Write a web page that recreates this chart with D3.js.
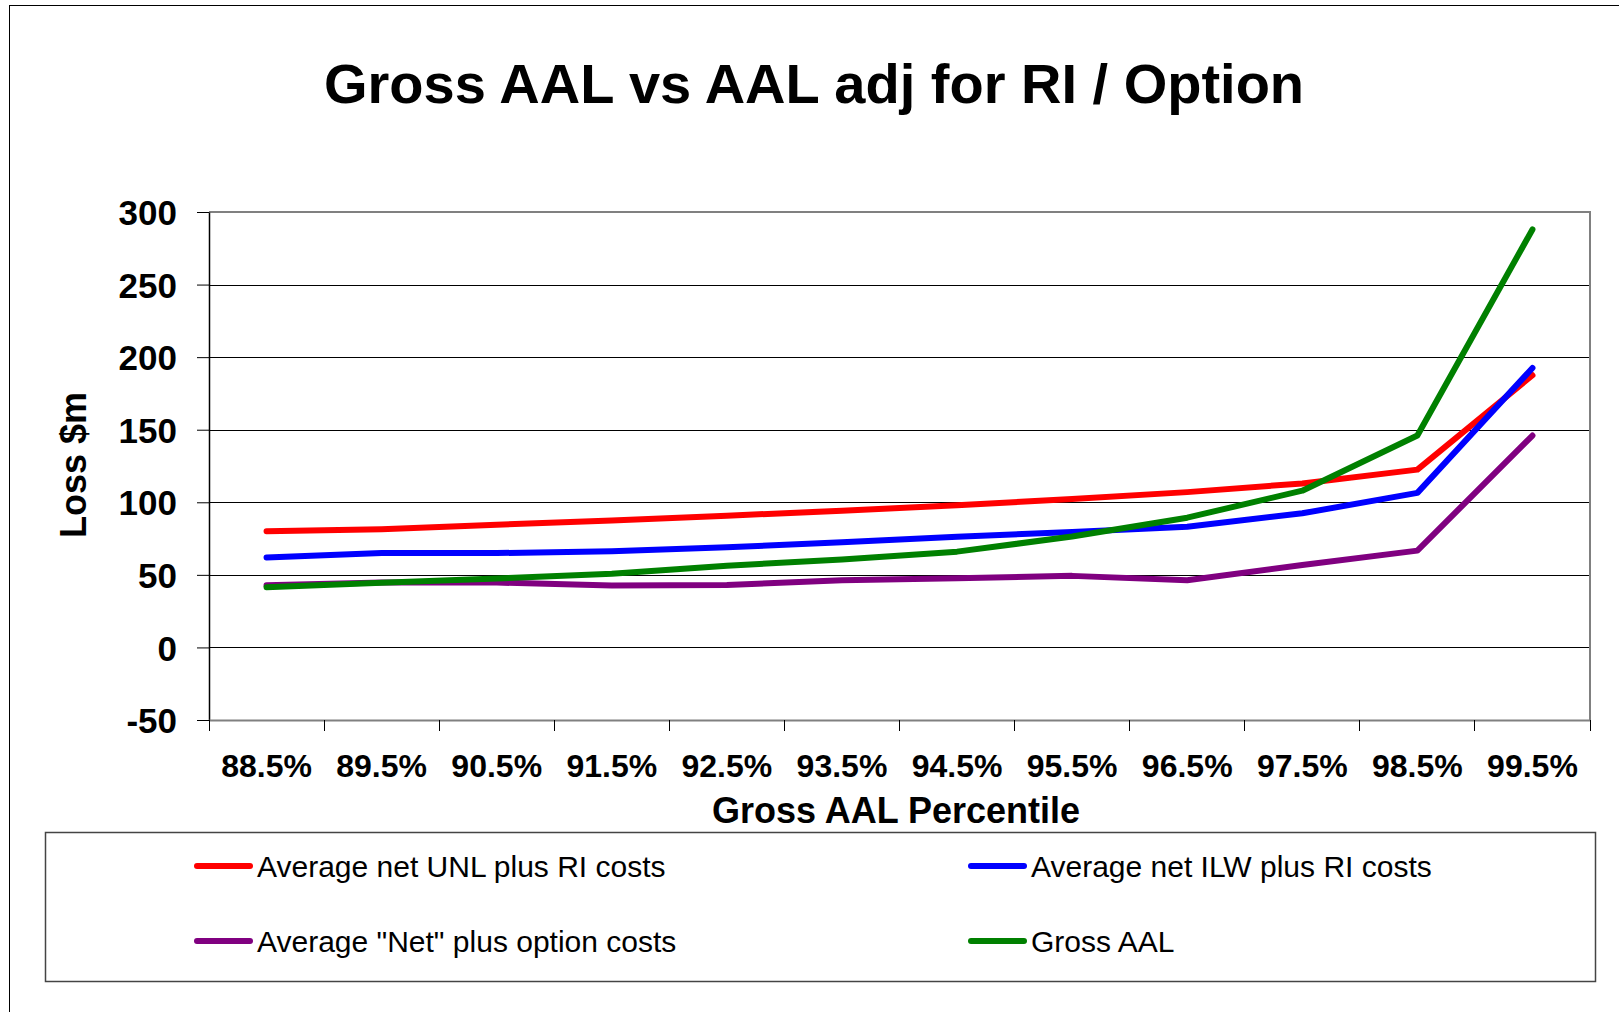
<!DOCTYPE html>
<html>
<head>
<meta charset="utf-8">
<script src="https://cdn.jsdelivr.net/npm/d3@7"></script>
<style>
  body { margin: 0; background: #fff; }
  svg { display: block; font-family: 'Liberation Sans', Arial, sans-serif; }
</style>
</head>
<body>
<svg id="chart" width="1619" height="1012"></svg>
<script>
var categories = [ '88.5%', '89.5%', '90.5%', '91.5%', '92.5%', '93.5%', '94.5%', '95.5%', '96.5%', '97.5%', '98.5%', '99.5%' ];

var unlRI  = [ 80, 81.5, 84.5, 87.5, 90.8, 94.2, 98, 102.3, 107, 113, 122.5, 187.5 ];
var ilwRI  = [ 62, 65, 65, 66.3, 69, 72.5, 76.3, 79.5, 83.2, 92.4, 106.5, 192.5 ];
var netOpt = [ 42.8, 44.7, 44.7, 42.7, 43, 46.3, 47.7, 49.3, 46.3, 56.8, 66.7, 146 ];
var gross  = [ 41.5, 44.6, 47.5, 50.7, 56.3, 60.6, 66, 76.4, 89.4, 108, 146, 288 ];

var seriesNames  = [ 'Average net UNL plus RI costs', 'Average net ILW plus RI costs', 'Average "Net" plus option costs', 'Gross AAL' ];
var seriesColors = [ '#ff0000', '#0000ff', '#800080', '#008000' ];
var yTicks = [ -50, 0, 50, 100, 150, 200, 250, 300 ];

var svg = d3.select( '#chart' ),
  plot = { left: 209, right: 1590, top: 212, bottom: 720 };

var series = [ unlRI, ilwRI, netOpt, gross ].map( ( v, i ) => ( { name: seriesNames[ i ], color: seriesColors[ i ], values: v } ) );

// outer chart border (only left & top visible in the crop)
svg.append( 'rect' )
  .attr( 'x', 9.5 ).attr( 'y', 5.5 )
  .attr( 'width', 1700 ).attr( 'height', 1100 )
  .style( 'fill', 'none' ).style( 'stroke', '#000' ).style( 'stroke-width', 1 );

svg.append( 'text' )
  .attr( 'x', 814 ).attr( 'y', 103 )
  .attr( 'text-anchor', 'middle' )
  .style( 'font-size', '56px' ).style( 'font-weight', 'bold' )
  .text( 'Gross AAL vs AAL adj for RI / Option' );

var x = d3.scaleBand()
  .domain( categories )
  .range( [ plot.left, plot.right ] );

var y = d3.scaleLinear()
  .domain( [ -50, 300 ] )
  .range( [ plot.bottom, plot.top ] );

// gridlines
svg.append( 'g' )
  .attr( 'class', 'grid' )
  .attr( 'transform', 'translate(' + plot.left + ',0)' )
  .call( d3.axisLeft( y ).tickValues( yTicks ).tickSize( -( plot.right - plot.left ) ).tickFormat( '' ) )
  .call( g => g.select( '.domain' ).remove() )
  .call( g => g.selectAll( 'line' ).style( 'stroke', '#000' ).style( 'shape-rendering', 'crispEdges' ) );

// plot frame top / right
svg.append( 'path' )
  .attr( 'd', 'M' + plot.left + ',' + plot.top + 'H' + plot.right + 'V' + plot.bottom )
  .style( 'fill', 'none' ).style( 'stroke', '#808080' ).style( 'stroke-width', 2 );

// y axis
var yAxis = svg.append( 'g' )
  .attr( 'transform', 'translate(' + plot.left + ',0)' )
  .call( d3.axisLeft( y ).tickValues( yTicks ).tickFormat( d => String( d ) )
    .tickSize( 12 ).tickSizeOuter( 0 ).tickPadding( 20 ) );
yAxis.select( '.domain' ).style( 'stroke', '#000' ).style( 'stroke-width', 1.5 );
yAxis.selectAll( '.tick line' ).style( 'stroke', '#000' );
yAxis.selectAll( 'text' )
  .style( 'font-size', '35px' ).style( 'font-weight', 'bold' ).style( 'fill', '#000' )
  .attr( 'dy', '0.36em' );

// x axis: labels at band centres, ticks at band edges
var xAxis = svg.append( 'g' )
  .attr( 'transform', 'translate(0,' + plot.bottom + ')' )
  .call( d3.axisBottom( x ).tickSize( 0 ).tickPadding( 0 ) );
xAxis.select( '.domain' ).style( 'stroke', '#808080' ).style( 'stroke-width', 2 );
xAxis.selectAll( 'text' )
  .attr( 'y', 57 ).attr( 'dy', 0 )
  .style( 'font-size', '32px' ).style( 'font-weight', 'bold' ).style( 'fill', '#000' );

var edges = categories.map( d => x( d ) ).concat( [ plot.right ] );
svg.append( 'g' ).selectAll( 'line' )
  .data( edges ).enter().append( 'line' )
    .attr( 'x1', d => d ).attr( 'x2', d => d )
    .attr( 'y1', plot.bottom ).attr( 'y2', plot.bottom + 11 )
    .style( 'stroke', '#000' ).style( 'shape-rendering', 'crispEdges' );

svg.append( 'text' )
  .attr( 'x', 896 ).attr( 'y', 823 )
  .attr( 'text-anchor', 'middle' )
  .style( 'font-size', '36px' ).style( 'font-weight', 'bold' )
  .text( 'Gross AAL Percentile' );

svg.append( 'text' )
  .attr( 'transform', 'translate(86,465) rotate(-90)' )
  .attr( 'text-anchor', 'middle' )
  .style( 'font-size', '36px' ).style( 'font-weight', 'bold' )
  .text( 'Loss $m' );

// lines
var line = d3.line()
  .x( ( d, i ) => x( categories[ i ] ) + x.bandwidth() / 2 )
  .y( d => y( d ) );

svg.append( 'g' ).selectAll( 'path' )
  .data( series ).enter().append( 'path' )
    .attr( 'd', d => line( d.values ) )
    .style( 'fill', 'none' )
    .style( 'stroke', d => d.color )
    .style( 'stroke-width', 6 )
    .style( 'stroke-linecap', 'round' )
    .style( 'stroke-linejoin', 'round' );

// legend
svg.append( 'rect' )
  .attr( 'x', 45.5 ).attr( 'y', 832.5 )
  .attr( 'width', 1550 ).attr( 'height', 149 )
  .style( 'fill', 'none' ).style( 'stroke', '#444' ).style( 'stroke-width', 1.5 );

var legendPos = [ [ 194, 866 ], [ 968, 866 ], [ 194, 941 ], [ 968, 941 ] ];

var legends = svg.append( 'g' ).selectAll( 'g' )
  .data( series ).enter().append( 'g' )
    .attr( 'transform', ( d, i ) => 'translate(' + legendPos[ i ][ 0 ] + ',' + legendPos[ i ][ 1 ] + ')' );

legends.append( 'line' )
  .attr( 'x1', 3 ).attr( 'x2', 56 )
  .style( 'stroke', d => d.color )
  .style( 'stroke-width', 6 )
  .style( 'stroke-linecap', 'round' );

legends.append( 'text' )
  .attr( 'x', 63 ).attr( 'dy', '0.36em' )
  .style( 'font-size', '30px' )
  .text( d => d.name );
</script>
</body>
</html>
